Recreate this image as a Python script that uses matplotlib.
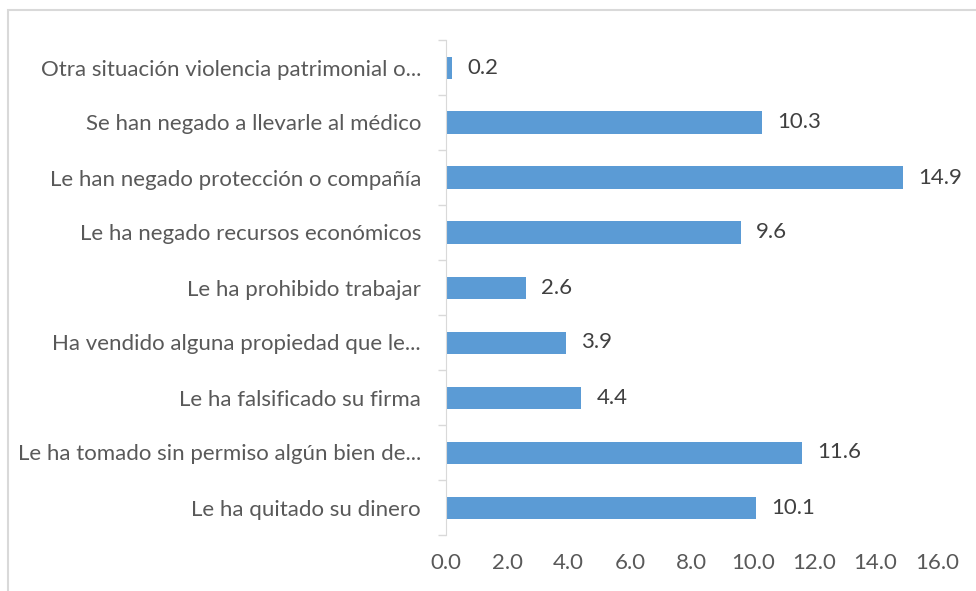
import matplotlib.pyplot as plt
from matplotlib.patches import Rectangle

categories = [
    "Le ha quitado su dinero",
    "Le ha tomado sin permiso algún bien de...",
    "Le ha falsificado su firma",
    "Ha vendido alguna propiedad que le...",
    "Le ha prohibido trabajar",
    "Le ha negado recursos económicos",
    "Le han negado protección o compañía",
    "Se han negado a llevarle al médico",
    "Otra situación violencia patrimonial o...",
]
values = [10.1, 11.6, 4.4, 3.9, 2.6, 9.6, 14.9, 10.3, 0.2]
xticks = [0, 2, 4, 6, 8, 10, 12, 14, 16]

plt.rcParams['font.family'] = ['Lato', 'DejaVu Sans']
text_color = '#595959'
bar_color = '#5B9BD5'
fs = 16

fig = plt.figure(figsize=(9.76, 5.91), dpi=100)
ax = fig.add_axes([446/976, 1 - 535/591, (937 - 446)/976, (535 - 40)/591])

pos = range(len(categories))
ax.barh(pos, values, height=0.4, color=bar_color)
for y, v in zip(pos, values):
    ax.annotate(f"{v:.1f}", (v, y), xytext=(11, 0), textcoords='offset points',
                va='center', ha='left', fontsize=fs, color='#404040')

ax.set_xlim(0, 16)
ax.set_ylim(-0.5, len(categories) - 0.5)
ax.set_xticks(xticks)
ax.set_xticklabels([f"{t:.1f}" for t in xticks], fontsize=fs, color=text_color)
ax.tick_params(axis='x', length=0, pad=13)

ax.set_yticks(list(pos))
ax.set_yticklabels(categories, fontsize=fs, color=text_color)
ax.tick_params(axis='y', which='major', length=0, pad=18)
ax.set_yticks([i - 0.5 for i in range(len(categories) + 1)], minor=True)
ax.tick_params(axis='y', which='minor', length=6, color='#D9D9D9', width=1)

for s in ['top', 'right', 'bottom']:
    ax.spines[s].set_visible(False)
ax.spines['left'].set_color('#D9D9D9')

# outer chart frame
fig.add_artist(Rectangle((8/976, -0.5), 2, 1.5 - 10/591, transform=fig.transFigure,
                         fill=False, edgecolor='#D9D9D9', linewidth=1.5))

fig.savefig('out.png', dpi=100)
